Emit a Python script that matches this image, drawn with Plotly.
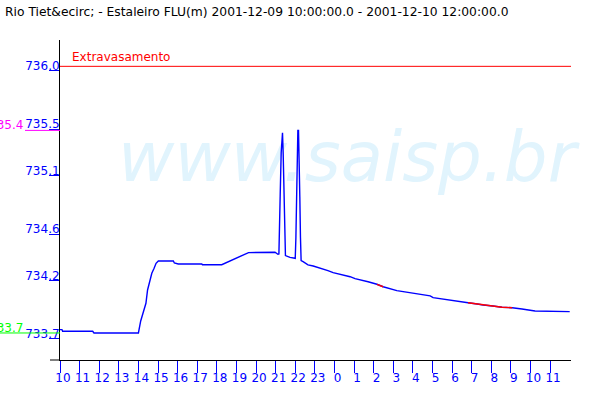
import math
import plotly.graph_objects as go

# ---------------- data ----------------
chart_title = "Rio Tiet&ecirc; - Estaleiro FLU(m) 2001-12-09 10:00:00.0 - 2001-12-10 12:00:00.0"

times = [
    "2001-12-09 10:00", "2001-12-09 10:06", "2001-12-09 10:08", "2001-12-09 11:40",
    "2001-12-09 11:44", "2001-12-09 14:00", "2001-12-09 14:07", "2001-12-09 14:13",
    "2001-12-09 14:23", "2001-12-09 14:28", "2001-12-09 14:35", "2001-12-09 14:41",
    "2001-12-09 14:48", "2001-12-09 14:54", "2001-12-09 15:01", "2001-12-09 15:47",
    "2001-12-09 15:50", "2001-12-09 16:02", "2001-12-09 17:14", "2001-12-09 17:16",
    "2001-12-09 18:15", "2001-12-09 18:36", "2001-12-09 18:51", "2001-12-09 19:06",
    "2001-12-09 19:22", "2001-12-09 19:37", "2001-12-09 20:58", "2001-12-09 21:07",
    "2001-12-09 21:10", "2001-12-09 21:12", "2001-12-09 21:14", "2001-12-09 21:17",
    "2001-12-09 21:19", "2001-12-09 21:21", "2001-12-09 21:23", "2001-12-09 21:25",
    "2001-12-09 21:27", "2001-12-09 21:30", "2001-12-09 21:44", "2001-12-09 22:00",
    "2001-12-09 22:02", "2001-12-09 22:04", "2001-12-09 22:06", "2001-12-09 22:08",
    "2001-12-09 22:10", "2001-12-09 22:12", "2001-12-09 22:14", "2001-12-09 22:16",
    "2001-12-09 22:18", "2001-12-09 22:24", "2001-12-09 22:39", "2001-12-09 22:55",
    "2001-12-09 23:22", "2001-12-09 23:40", "2001-12-09 23:56", "2001-12-10 00:17",
    "2001-12-10 00:48", "2001-12-10 01:03", "2001-12-10 01:25", "2001-12-10 01:43",
    "2001-12-10 02:10", "2001-12-10 02:29", "2001-12-10 03:11", "2001-12-10 03:51",
    "2001-12-10 04:31", "2001-12-10 04:53", "2001-12-10 05:02", "2001-12-10 06:00",
    "2001-12-10 06:24", "2001-12-10 06:49", "2001-12-10 07:17", "2001-12-10 07:35",
    "2001-12-10 08:05", "2001-12-10 08:33", "2001-12-10 09:04", "2001-12-10 09:19",
    "2001-12-10 09:34", "2001-12-10 10:14", "2001-12-10 11:21", "2001-12-10 12:00",
]

levels = [
    733.780, 733.780, 733.766, 733.766,
    733.751, 733.751, 733.854, 733.914,
    734.006, 734.120, 734.212, 734.264,
    734.306, 734.349, 734.369, 734.369,
    734.352, 734.343, 734.343, 734.337,
    734.337, 734.363, 734.384, 734.406,
    734.427, 734.441, 734.444, 734.427,
    734.430, 734.600, 734.940, 735.300,
    735.470, 735.470, 735.300, 734.940,
    734.600, 734.415, 734.400, 734.392,
    734.570, 734.920, 735.300, 735.490,
    735.490, 735.300, 734.920, 734.570,
    734.372, 734.363, 734.335, 734.326,
    734.306, 734.286, 734.269, 734.255,
    734.234, 734.217, 734.206, 734.191,
    734.169, 734.148, 734.114, 734.097,
    734.083, 734.069, 734.054, 734.034,
    734.026, 734.011, 734.000, 733.991,
    733.983, 733.972, 733.968, 733.960,
    733.957, 733.940, 733.934, 733.934,
]

# stretches drawn in red
red_ranges = [
    ("2001-12-10 02:10", "2001-12-10 02:29"),
    ("2001-12-10 06:49", "2001-12-10 09:04"),
]

threshold_value = 736.04
threshold_label = "Extravasamento"

y_tick_vals = [733.7, 734.2, 734.6, 735.1, 735.5, 736.0]
y_tick_text = ["733.7", "734.2", "734.6", "735.1", "735.5", "736.0"]

x_tick_vals = [
    "2001-12-09 10:00", "2001-12-09 11:00", "2001-12-09 12:00", "2001-12-09 13:00",
    "2001-12-09 14:00", "2001-12-09 15:00", "2001-12-09 16:00", "2001-12-09 17:00",
    "2001-12-09 18:00", "2001-12-09 19:00", "2001-12-09 20:00", "2001-12-09 21:00",
    "2001-12-09 22:00", "2001-12-09 23:00", "2001-12-10 00:00", "2001-12-10 01:00",
    "2001-12-10 02:00", "2001-12-10 03:00", "2001-12-10 04:00", "2001-12-10 05:00",
    "2001-12-10 06:00", "2001-12-10 07:00", "2001-12-10 08:00", "2001-12-10 09:00",
    "2001-12-10 10:00", "2001-12-10 11:00",
]
x_tick_text = ["10", "11", "12", "13", "14", "15", "16", "17", "18", "19", "20", "21",
               "22", "23", "0", "1", "2", "3", "4", "5", "6", "7", "8", "9", "10", "11"]

x_range = ["2001-12-09 10:00", "2001-12-10 12:04"]
y_range = [733.519, 736.266]

watermark_text = "www.saisp.br"

# ---------------- build ----------------
BLUE = "#0000ff"
RED = "#ff0000"
FONT = "DejaVu Sans"

red_x, red_y = [], []
for start, end in red_ranges:
    for t, v in zip(times, levels):
        if start <= t <= end:
            red_x.append(t)
            red_y.append(v)
    red_x.append(None)
    red_y.append(None)

max_level = max(levels)
min_level = min(levels)
max_text = f"{math.floor(max_level * 10) / 10:.1f}"
min_text = f"{math.floor(min_level * 10) / 10:.1f}"

fig = go.Figure()
fig.add_trace(go.Scatter(x=times, y=levels, mode="lines",
                         line=dict(color=BLUE, width=1.4), hoverinfo="skip"))
fig.add_trace(go.Scatter(x=red_x, y=red_y, mode="lines",
                         line=dict(color=RED, width=1.4), hoverinfo="skip",
                         connectgaps=False))

PW = 511.0  # plot width px

fig.update_layout(
    width=600, height=400, autosize=False,
    margin=dict(l=60, r=29, t=40, b=40, pad=0),
    paper_bgcolor="white", plot_bgcolor="white",
    showlegend=False,
    font=dict(family=FONT, size=12, color="black"),
    title=dict(text=chart_title.replace("&", "&amp;"), x=5 / 600, xref="container",
               xanchor="left", y=1 - 12 / 400, yref="container", yanchor="middle",
               font=dict(family=FONT, size=12.3, color="black")),
    xaxis=dict(type="date", range=x_range, tickmode="array",
               tickvals=x_tick_vals, ticktext=x_tick_text,
               ticks="outside", ticklen=12, tickwidth=1, tickcolor=BLUE,
               tickfont=dict(family=FONT, size=12, color=BLUE),
               showgrid=False, zeroline=False, showline=True,
               linecolor="black", linewidth=1,
               ticklabelstandoff=-5, ticklabelshift=3),
    yaxis=dict(range=y_range, tickmode="array",
               tickvals=y_tick_vals, ticktext=y_tick_text,
               ticks="outside", ticklen=10, tickwidth=1, tickcolor=BLUE,
               tickfont=dict(family=FONT, size=12, color=BLUE),
               showgrid=False, zeroline=False, showline=True,
               linecolor="black", linewidth=1,
               ticklabelstandoff=-13, ticklabelshift=-5),
    shapes=[
        dict(type="rect", xref="paper", yref="paper",
             x0=(107 - 60) / PW, x1=(587 - 60) / PW,
             y0=(360 - 196) / 320, y1=(360 - 107) / 320,
             line=dict(width=0), fillcolor="rgba(0,0,0,0)", layer="below",
             label=dict(text=watermark_text, textposition="middle center",
                        font=dict(family=FONT, size=69, color="#e1f4fd",
                                  style="italic"))),
        dict(type="line", xref="paper", yref="y", x0=0, x1=1,
             y0=threshold_value, y1=threshold_value,
             line=dict(color=RED, width=1)),
        dict(type="line", xref="paper", yref="paper", x0=-10 / PW, x1=0,
             y0=0, y1=0, line=dict(color="black", width=1)),
        dict(type="line", xref="paper", yref="y", x0=-35 / PW, x1=0,
             y0=max_level, y1=max_level, line=dict(color="#ff00ff", width=1)),
        dict(type="line", xref="paper", yref="y", x0=-60 / PW, x1=0,
             y0=min_level, y1=min_level, line=dict(color="#00ff00", width=1)),
    ],
    annotations=[
        dict(text=threshold_label, xref="paper", yref="y", x=10 / PW,
             y=threshold_value, xanchor="left", yanchor="bottom", showarrow=False,
             font=dict(family=FONT, size=12, color=RED)),
        dict(text=max_text, xref="paper", yref="y", x=-35 / PW, y=max_level,
             xanchor="right", yanchor="bottom", yshift=-4, showarrow=False,
             font=dict(family=FONT, size=12, color="#ff00ff")),
        dict(text=min_text, xref="paper", yref="y", x=-35 / PW, y=min_level,
             xanchor="right", yanchor="bottom", yshift=-4, showarrow=False,
             font=dict(family=FONT, size=12, color="#00ff00")),
    ],
)

fig.write_html("out.html",
               config={"displayModeBar": False},
               post_script="document.body.style.margin='0';document.body.style.overflow='hidden';")
